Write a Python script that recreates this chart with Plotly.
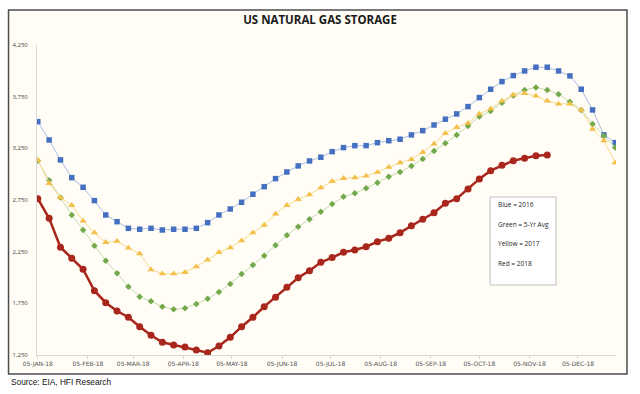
import pandas as pd
import plotly.graph_objects as go

# Weekly storage dates (week ending Fridays, 2018)
dates = pd.date_range("2018-01-05", periods=52, freq="7D")

blue_2016 = [3508, 3331, 3138, 2966, 2873, 2744, 2605, 2540, 2476, 2467, 2476, 2460, 2467, 2467,
             2476, 2531, 2605, 2663, 2728, 2806, 2879, 2957, 3021, 3080, 3128, 3164, 3218,
             3257, 3276, 3276, 3305, 3324, 3338, 3380, 3421, 3476, 3532, 3583, 3654, 3741,
             3822, 3896, 3954, 3999, 4035, 4035, 3999, 3951, 3822, 3622, 3380, 3305]

green_5yr = [3130, 2941, 2773, 2605, 2460, 2308, 2163, 2041, 1911, 1814, 1770, 1718, 1692, 1702,
             1744, 1795, 1860, 1937, 2034, 2121, 2211, 2312, 2409, 2492, 2564, 2637, 2712,
             2782, 2815, 2864, 2918, 2976, 3021, 3080, 3147, 3225, 3299, 3380, 3467, 3557,
             3612, 3692, 3762, 3815, 3838, 3815, 3774, 3702, 3622, 3486, 3370, 3257]

yellow_2017 = [3138, 2912, 2773, 2699, 2547, 2434, 2341, 2351, 2286, 2231, 2076, 2037, 2037, 2050,
               2105, 2170, 2244, 2289, 2356, 2434, 2508, 2615, 2699, 2757, 2802, 2869, 2931,
               2960, 2966, 2983, 3019, 3067, 3111, 3144, 3212, 3292, 3396, 3454, 3493, 3583,
               3633, 3709, 3767, 3783, 3757, 3709, 3680, 3680, 3622, 3435, 3324, 3111]

red_2018 = [2763, 2573, 2293, 2186, 2080, 1872, 1756, 1676, 1615, 1524, 1441, 1373, 1347, 1327,
            1298, 1272, 1337, 1421, 1524, 1615, 1718, 1809, 1905, 1998, 2066, 2147, 2193,
            2244, 2266, 2298, 2347, 2380, 2434, 2502, 2564, 2627, 2718, 2763, 2857, 2954,
            3034, 3086, 3131, 3154, 3179, 3186]

x_tick_vals = ["2018-01-05", "2018-02-05", "2018-03-05", "2018-04-05", "2018-05-05", "2018-06-05",
               "2018-07-05", "2018-08-05", "2018-09-05", "2018-10-05", "2018-11-05", "2018-12-05"]
x_tick_text = ["05-JAN-18", "05-FEB-18", "05-MAR-18", "05-APR-18", "05-MAY-18", "05-JUN-18",
               "05-JUL-18", "05-AUG-18", "05-SEP-18", "05-OCT-18", "05-NOV-18", "05-DEC-18"]
y_tick_vals = [1250, 1750, 2250, 2750, 3250, 3750, 4250]

legend_lines = ["Blue = 2016", "Green = 5-Yr Avg", "Yellow = 2017", "Red = 2018"]

fig = go.Figure()
fig.add_trace(go.Scatter(x=dates, y=blue_2016, mode="lines+markers",
                         line=dict(color="#A9BDE3", width=1),
                         marker=dict(symbol="square", size=5.5, color="#4570C2")))
fig.add_trace(go.Scatter(x=dates, y=green_5yr, mode="lines+markers",
                         line=dict(color="#C3DBAE", width=1),
                         marker=dict(symbol="diamond", size=5, color="#74A84C")))
fig.add_trace(go.Scatter(x=dates, y=yellow_2017, mode="lines+markers",
                         line=dict(color="#F6DB8E", width=1),
                         marker=dict(symbol="triangle-up", size=6.5, color="#F3C04A")))
fig.add_trace(go.Scatter(x=dates[:len(red_2018)], y=red_2018, mode="lines+markers",
                         line=dict(color="#A8261B", width=2.5),
                         marker=dict(symbol="circle", size=7, color="#A8261B")))

# px -> paper helpers (plot area: x 36.5..616, y 45..355)
def px(v):
    return (v - 36.5) / 579.5

def py(v):
    return (355 - v) / 310.0

shapes = [
    dict(type="rect", xref="paper", yref="paper", x0=px(8), x1=px(627), y0=py(374), y1=py(10),
         line=dict(color="#4d4d4d", width=1.5), fillcolor="#FFFDF5", layer="below"),
    dict(type="rect", xref="paper", yref="paper", x0=px(490), x1=px(556), y0=py(285), y1=py(197),
         line=dict(color="#BFBFBF", width=1), fillcolor="#FFFFFF", layer="above"),
]

annotations = []
for txt, yy in zip(legend_lines, [204.5, 224, 243.5, 263]):
    annotations.append(dict(text=txt, xref="paper", yref="paper", x=px(495.5), y=py(yy),
                            xanchor="left", yanchor="middle", showarrow=False,
                            font=dict(family="Open Sans", size=6.5, color="#222222")))
annotations.append(dict(text="Source: EIA, HFI Research", xref="paper", yref="paper",
                        x=px(8), y=py(381.5), xanchor="left", yanchor="middle", showarrow=False,
                        font=dict(family="Liberation Sans", size=8.3, color="#111111")))

fig.update_layout(
    width=640, height=394,
    margin=dict(l=36.5, r=24, t=45, b=39),
    paper_bgcolor="#FFFFFF", plot_bgcolor="#FFFDF5",
    showlegend=False, hovermode=False,
    title=dict(text="<b>US NATURAL GAS STORAGE</b>", x=0.5, xanchor="center",
               y=1 - 20 / 394, yanchor="middle", yref="container",
               font=dict(family="Open Sans", size=11.5, color="#1a1a1a")),
    shapes=shapes, annotations=annotations,
    xaxis=dict(type="date", range=["2018-01-04 12:00", "2018-12-28 12:00"],
               tickvals=x_tick_vals, ticktext=x_tick_text,
               showgrid=False, zeroline=False, showline=True, linecolor="#D9D9D9", linewidth=1,
               ticks="outside", ticklen=3, tickcolor="#D9D9D9",
               tickfont=dict(family="DejaVu Sans", size=6, color="#555555")),
    yaxis=dict(range=[1250, 4250], tickvals=y_tick_vals, tickformat=",",
               showgrid=False, zeroline=False, showline=True, linecolor="#D9D9D9", linewidth=1,
               ticks="", ticklabelstandoff=7,
               tickfont=dict(family="Open Sans", size=6, color="#444444")),
)

fig.write_html("out.html", config={"displayModeBar": False},
               post_script="document.body.style.margin='0px';")
